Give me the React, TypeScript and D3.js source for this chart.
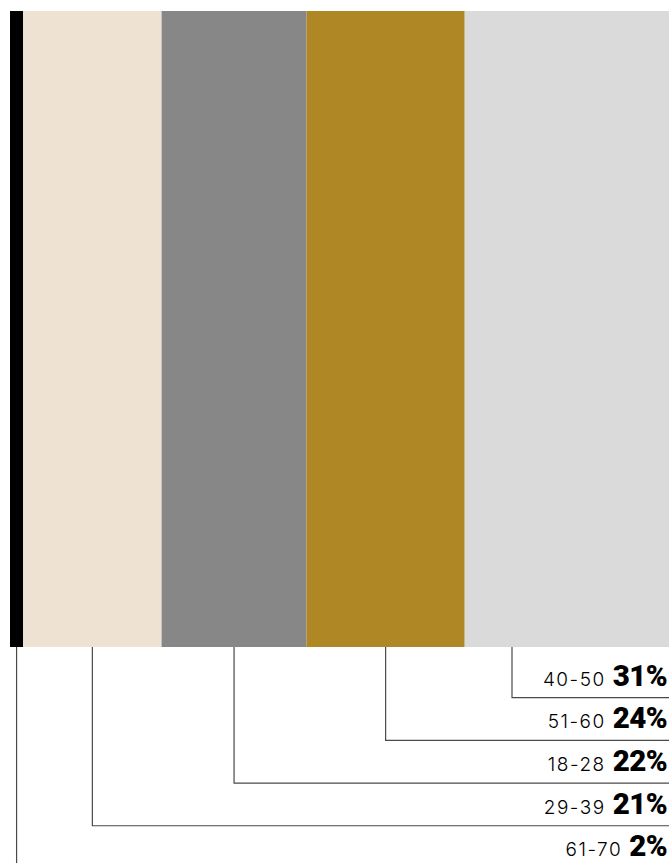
import React from "react";
import * as d3 from "d3";

const categories = ["61-70", "29-39", "18-28", "51-60", "40-50"];
const values = [2, 21, 22, 24, 31];
const colors = ["#000000", "#EEE3D2", "#878787", "#AF8724", "#DADADA"];

const W = 669;
const H = 863;
const barTop = 11;
const barBottom = 647;

export default function App() {
  const total = d3.sum(values);
  const x = d3.scaleLinear().domain([0, total]).range([10, W]);
  const starts = d3.cumsum([0, ...values]);
  const segs = categories.map((c, i) => ({
    cat: c,
    value: values[i],
    color: colors[i],
    x0: x(starts[i]),
    x1: x(starts[i] + values[i]),
  }));
  // label rows: rightmost segment on top
  const order = d3.range(segs.length).reverse();
  const rowY = d3.scaleLinear().domain([0, segs.length - 1]).range([697.7, 868.4]);

  return (
    <svg
      width={W}
      height={H}
      style={{ position: "absolute", left: 0, top: 0, display: "block" }}
    >
      <rect x={0} y={0} width={W} height={H} fill="#ffffff" />
      {segs.map((s) => (
        <rect
          key={s.cat}
          x={s.x0}
          y={barTop}
          width={s.x1 - s.x0}
          height={barBottom - barTop}
          fill={s.color}
        />
      ))}
      {order.map((idx, row) => {
        const s = segs[idx];
        const ly = rowY(row);
        const cx = Math.min((s.x0 + s.x1) / 2, W - 157);
        return (
          <g key={s.cat}>
            <path
              d={`M${cx},${barBottom}V${ly}H${W}`}
              fill="none"
              stroke="#4a4a4a"
              strokeWidth={1.2}
            />
            <text
              x={667}
              y={ly - 12}
              textAnchor="end"
              fill="#000"
            >
              <tspan
                fontFamily="Inter, 'Open Sans', sans-serif"
                fontWeight={300}
                fontSize={19}
                letterSpacing={1.5}
              >
                {s.cat}
              </tspan>
              <tspan
                dx={7}
                fontFamily="Roboto, sans-serif"
                fontWeight={900}
                fontSize={29.5}
                letterSpacing={-0.6}
              >
                {`${s.value}%`}
              </tspan>
            </text>
          </g>
        );
      })}
    </svg>
  );
}
